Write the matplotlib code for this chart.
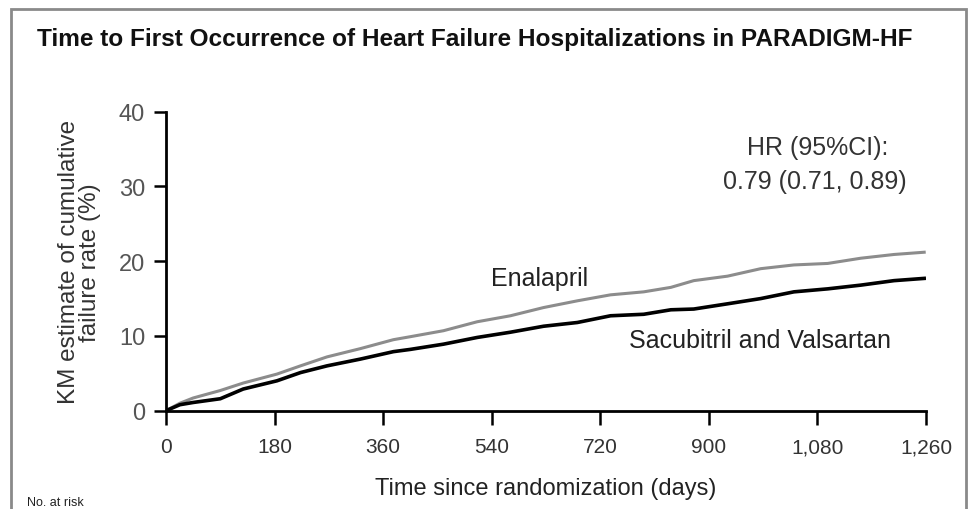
import matplotlib
matplotlib.use("Agg")
import matplotlib.pyplot as plt
from matplotlib.patches import Rectangle

# KM curves (days, cumulative failure rate %)
days = [0, 23, 45, 90, 128, 184, 223, 267, 322, 377, 405, 460, 516, 571, 626,
        682, 737, 792, 837, 875, 931, 986, 1041, 1097, 1152, 1207, 1257]
enalapril = [0, 1.0, 1.7, 2.7, 3.7, 4.9, 6.0, 7.2, 8.3, 9.5, 9.9, 10.7, 11.9,
             12.7, 13.8, 14.7, 15.5, 15.9, 16.5, 17.4, 18.0, 19.0, 19.5, 19.7,
             20.4, 20.9, 21.2]
sacubitril = [0, 0.8, 1.1, 1.6, 2.9, 4.0, 5.1, 6.0, 6.9, 7.9, 8.2, 8.9, 9.8,
              10.5, 11.3, 11.8, 12.7, 12.9, 13.5, 13.6, 14.3, 15.0, 15.9, 16.3,
              16.8, 17.4, 17.7]

xticks = [0, 180, 360, 540, 720, 900, 1080, 1260]
xtick_labels = ["0", "180", "360", "540", "720", "900", "1,080", "1,260"]
yticks = [0, 10, 20, 30, 40]

plt.rcParams['font.family'] = ['Liberation Sans', 'DejaVu Sans']

W, H = 974, 510
fig = plt.figure(figsize=(W / 100, H / 100), dpi=100)

# grey frame around the panel (bottom runs off the image)
fig.patches.append(Rectangle((11 / W, -0.05), 955 / W, 1.05 - 10 / H,
                             transform=fig.transFigure, fill=False,
                             edgecolor='#8a8a8a', linewidth=2))

ax = fig.add_axes([166 / W, 1 - 411.7 / H, 760 / W, 299 / H])
ax.plot(days, enalapril, color='#8c8c8c', lw=2.2)
ax.plot(days, sacubitril, color='black', lw=2.6)

ax.set_xlim(0, 1260)
ax.set_ylim(0, 40)
ax.set_xticks(xticks)
ax.set_xticklabels(xtick_labels)
ax.set_yticks(yticks)
for s in ['top', 'right']:
    ax.spines[s].set_visible(False)
for s in ['left', 'bottom']:
    ax.spines[s].set_linewidth(2)
ax.tick_params(axis='x', length=10, width=1.8, pad=9, labelsize=15,
               labelcolor='#333333')
ax.tick_params(axis='y', length=9, width=1.8, pad=6, labelsize=17,
               labelcolor='#555555')

ax.set_xlabel('Time since randomization (days)', fontsize=17, color='#222222',
              labelpad=15)
ax.set_ylabel('KM estimate of cumulative\nfailure rate (%)', fontsize=17.5,
              color='#333333', labelpad=13, linespacing=0.95)

ax.text(1080, 35.3, 'HR (95%CI):', ha='center', va='center', fontsize=18,
        color='#333333')
ax.text(1076, 30.7, '0.79 (0.71, 0.89)', ha='center', va='center', fontsize=18,
        color='#333333')
ax.text(620, 17.7, 'Enalapril', ha='center', va='center', fontsize=18,
        color='#222222')
ax.text(985, 9.4, 'Sacubitril and Valsartan', ha='center', va='center',
        fontsize=18, color='#222222')

fig.text(37 / W, 1 - 40 / H,
         'Time to First Occurrence of Heart Failure Hospitalizations in PARADIGM-HF',
         fontsize=17.6, fontweight='bold', ha='left', va='center', color='#111111')
fig.text(27 / W, 1 / H, 'No. at risk', fontsize=9, ha='left', va='bottom',
         color='#222222')

fig.savefig('out.png', dpi=100)
